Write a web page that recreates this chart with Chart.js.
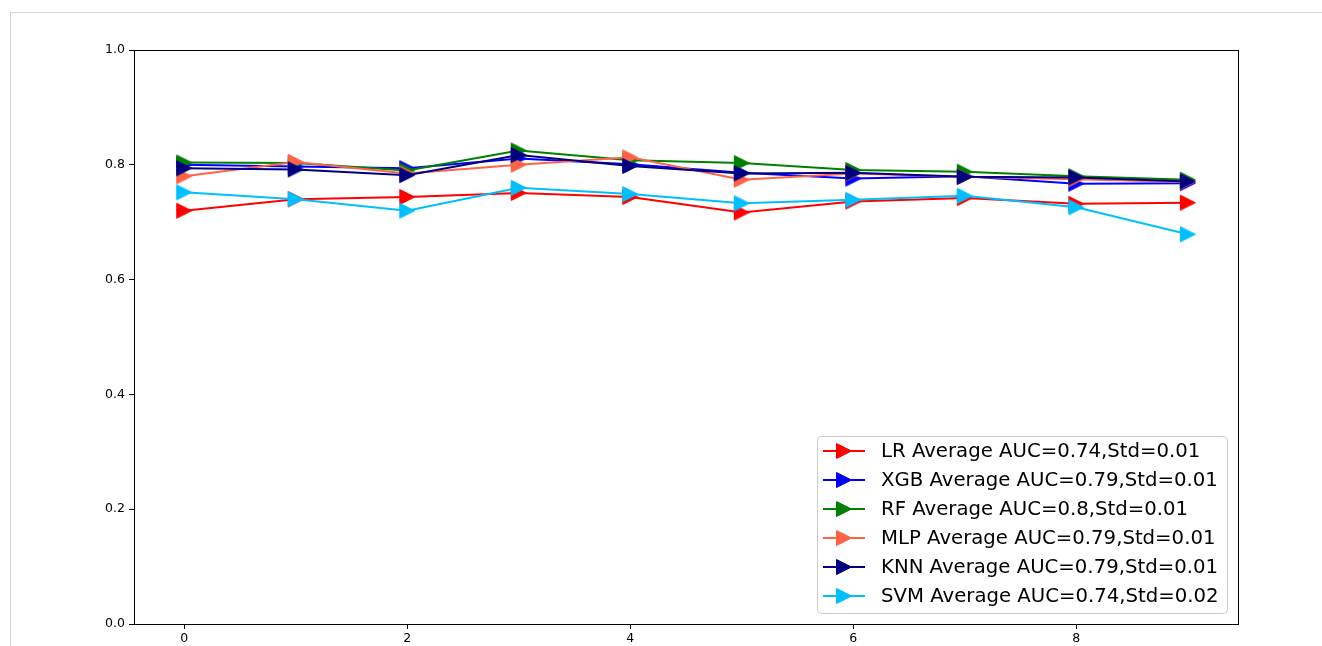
<!DOCTYPE html>
<html lang="en">
<head>
<meta charset="UTF-8" />
<title>Average AUC</title>
<script src="https://cdn.jsdelivr.net/npm/chart.js"></script>
<style>
  html, body { margin: 0; padding: 0; background: #fff; overflow: hidden; }
  #frame {
    position: absolute; left: 10px; top: 12px;
    width: 1330px; height: 700px;
    border: 1px solid #d6d6d6;
  }
  #chart { position: absolute; left: 0; top: 0; }
</style>
</head>
<body>
<div id="frame"></div>
<canvas id="chart" width="1322" height="646"></canvas>

<script>
const xs = [0, 1, 2, 3, 4, 5, 6, 7, 8, 9];
const lr  = [0.720, 0.740, 0.744, 0.751, 0.744, 0.717, 0.736, 0.742, 0.732, 0.734];
const xgb = [0.800, 0.797, 0.794, 0.811, 0.801, 0.786, 0.776, 0.780, 0.767, 0.768];
const rf  = [0.804, 0.803, 0.790, 0.825, 0.808, 0.803, 0.791, 0.788, 0.780, 0.774];
const mlp = [0.780, 0.805, 0.785, 0.800, 0.813, 0.774, 0.785, 0.779, 0.775, 0.770];
const knn = [0.794, 0.792, 0.782, 0.817, 0.798, 0.785, 0.786, 0.779, 0.778, 0.771];
const svm = [0.752, 0.740, 0.720, 0.760, 0.749, 0.733, 0.739, 0.746, 0.726, 0.679];

const seriesNames = [
  'LR Average AUC=0.74,Std=0.01',
  'XGB Average AUC=0.79,Std=0.01',
  'RF Average AUC=0.8,Std=0.01',
  'MLP Average AUC=0.79,Std=0.01',
  'KNN Average AUC=0.79,Std=0.01',
  'SVM Average AUC=0.74,Std=0.02'
];
const seriesColors = ['#ff0000', '#0000ff', '#008000', '#ff6347', '#000080', '#00bfff'];
const xTicks = [0, 2, 4, 6, 8];
const yTicks = [0, 0.2, 0.4, 0.6, 0.8, 1.0];

const FONT = 'DejaVu Sans';

// matplotlib-like '>' marker
function makeMarker(color) {
  const c = document.createElement('canvas');
  c.width = 20; c.height = 20;
  const g = c.getContext('2d');
  g.beginPath();
  g.moveTo(2.5, 2.5);
  g.lineTo(17.5, 10);
  g.lineTo(2.5, 17.5);
  g.closePath();
  g.fillStyle = color;
  g.strokeStyle = color;
  g.lineWidth = 1;
  g.fill();
  g.stroke();
  return c;
}
const markers = seriesColors.map(makeMarker);

const allSeries = [lr, xgb, rf, mlp, knn, svm];
const datasets = allSeries.map((vals, i) => ({
  label: seriesNames[i],
  data: xs.map((x, j) => ({ x: x, y: vals[j] })),
  borderColor: seriesColors[i],
  backgroundColor: seriesColors[i],
  borderWidth: 2,
  pointStyle: markers[i],
  pointRadius: 8,
  tension: 0,
  fill: false,
  order: allSeries.length - i
}));

const framePlugin = {
  id: 'frame',
  afterDatasetsDraw(chart) {
    const a = chart.chartArea, ctx = chart.ctx;
    ctx.save();
    ctx.strokeStyle = '#000';
    ctx.lineWidth = 1;
    ctx.strokeRect(Math.round(a.left) + 0.5, Math.round(a.top) + 0.5,
                   Math.round(a.right - a.left), Math.round(a.bottom - a.top));
    ctx.restore();
  }
};

const legendPlugin = {
  id: 'innerLegend',
  afterDraw(chart) {
    const ctx = chart.ctx;
    const bx = 817.5, by = 436.5, bw = 410, bh = 177, r = 4;
    ctx.save();
    ctx.beginPath();
    ctx.moveTo(bx + r, by);
    ctx.arcTo(bx + bw, by, bx + bw, by + bh, r);
    ctx.arcTo(bx + bw, by + bh, bx, by + bh, r);
    ctx.arcTo(bx, by + bh, bx, by, r);
    ctx.arcTo(bx, by, bx + bw, by, r);
    ctx.closePath();
    ctx.fillStyle = 'rgba(255,255,255,0.8)';
    ctx.fill();
    ctx.strokeStyle = '#cccccc';
    ctx.lineWidth = 1;
    ctx.stroke();

    ctx.font = '19.7px "' + FONT + '"';
    ctx.textBaseline = 'middle';
    chart.data.datasets.forEach((ds, i) => {
      const y = 451 + 29 * i;
      ctx.beginPath();
      ctx.moveTo(823, y);
      ctx.lineTo(865, y);
      ctx.strokeStyle = ds.borderColor;
      ctx.lineWidth = 2;
      ctx.stroke();
      ctx.drawImage(ds.pointStyle, 844 - 10, y - 10);
      ctx.fillStyle = '#000';
      ctx.fillText(ds.label, 881, y + 1);
    });
    ctx.restore();
  }
};

const tickFont = { family: FONT, size: 12.5 };

new Chart(document.getElementById('chart').getContext('2d'), {
  type: 'line',
  data: { datasets: datasets },
  options: {
    responsive: false,
    animation: false,
    layout: { padding: { top: 50, right: 84, left: 0, bottom: 0 } },
    plugins: {
      legend: { display: false },
      tooltip: { enabled: false }
    },
    scales: {
      x: {
        type: 'linear',
        min: -0.45,
        max: 9.45,
        afterFit: s => { s.height = 22; },
        afterBuildTicks: s => { s.ticks = xTicks.map(v => ({ value: v })); },
        ticks: { font: tickFont, color: '#000', padding: 2, maxRotation: 0, callback: v => String(v) },
        grid: { drawOnChartArea: false, drawTicks: true, tickLength: 5, color: '#000' },
        border: { display: true, color: '#000' }
      },
      y: {
        min: 0,
        max: 1,
        afterFit: s => { s.width = 134; },
        afterBuildTicks: s => { s.ticks = yTicks.map(v => ({ value: v })); },
        ticks: { font: tickFont, color: '#000', padding: 4, callback: v => v.toFixed(1) },
        grid: { drawOnChartArea: false, drawTicks: true, tickLength: 5, color: '#000' },
        border: { display: true, color: '#000' }
      }
    }
  },
  plugins: [framePlugin, legendPlugin]
});
</script>
</body>
</html>
